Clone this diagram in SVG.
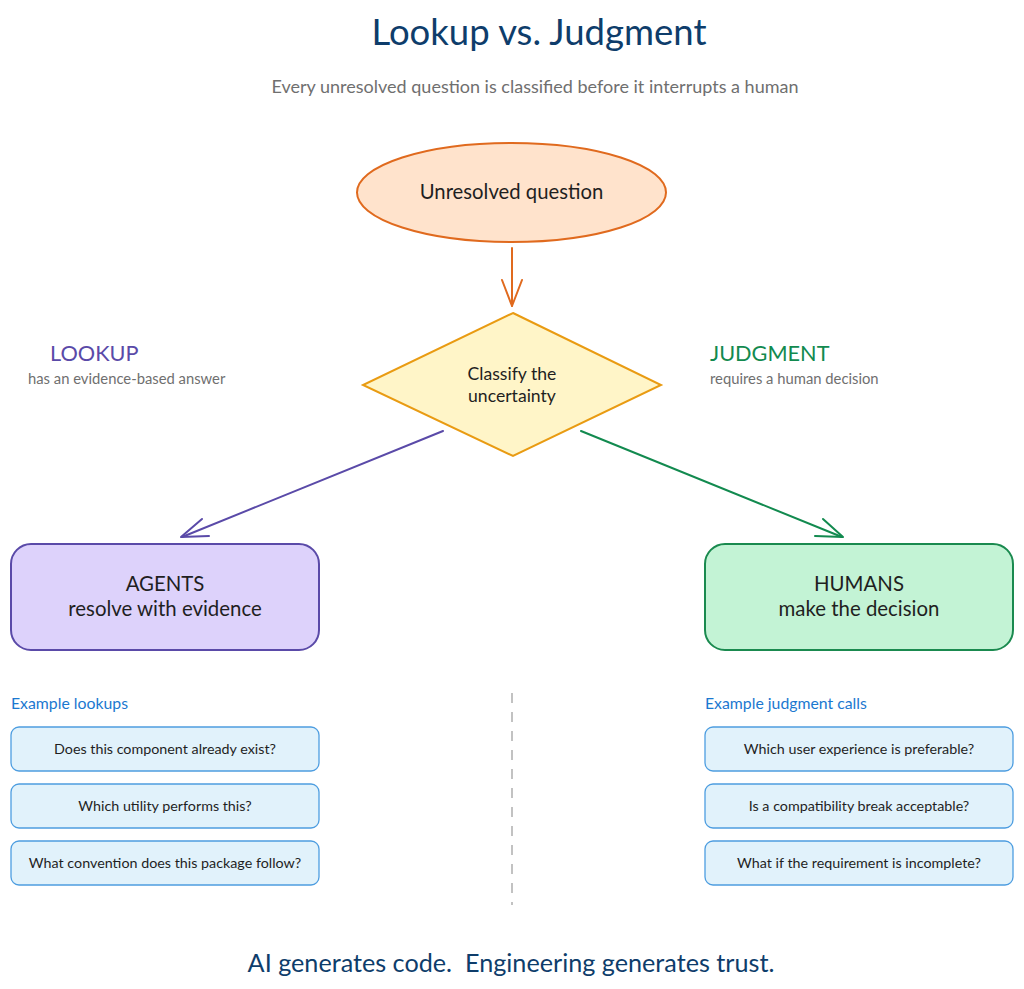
<svg xmlns="http://www.w3.org/2000/svg" width="1024" height="989" viewBox="0 0 1024 989">
<style>
text{font-family:Lato,"Noto Sans","Liberation Sans",sans-serif}
.title{font-size:36.5px;fill:#0e3d6b;text-anchor:middle}
.sub{font-size:18px;fill:#6f6f6f;text-anchor:middle}
.dark{fill:#1f1f1f;text-anchor:middle}
.ex{font-size:14.3px;fill:#1f1f1f;text-anchor:middle}
.exbox{fill:#e1f2fb;stroke:#4d9de0;stroke-width:1.3}
.hdr{font-size:15.8px;fill:#1b78d0}
.note{font-size:14.8px;fill:#6f6f6f}
.footer{font-size:25.2px;fill:#0e3d6b;text-anchor:middle}
</style>
<rect width="1024" height="989" fill="#ffffff"/>
<text class="title" x="539" y="45">Lookup vs. Judgment</text>
<text class="sub" x="535" y="93">Every unresolved question is classified before it interrupts a human</text>

<g id="connectors" fill="none" stroke-width="2" stroke-linecap="round" stroke-linejoin="round">
  <g stroke="#e06a1e">
    <path d="M512 248 L512 306"/>
    <path d="M502 280 L512 306 L522 280"/>
  </g>
  <g stroke="#5a4aa8">
    <path d="M443 431 L182 537"/>
    <path d="M202 519 L181 537 L209 536"/>
  </g>
  <g stroke="#128a4f">
    <path d="M581 431 L842 537"/>
    <path d="M823 519 L843 537 L815 536"/>
  </g>
  <path d="M512 693 L512 905" stroke="#c2c2c2" stroke-width="2" stroke-dasharray="10 9" stroke-linecap="butt"/>
</g>

<g id="unresolved">
  <ellipse cx="511.5" cy="192.5" rx="154.5" ry="49.5" fill="#ffe3cc" stroke="#e06a1e" stroke-width="2"/>
  <text class="dark" x="511.5" y="199" font-size="20.3">Unresolved question</text>
</g>

<g id="classify">
  <polygon points="513,313 661,385 513,456 363,385" fill="#fff5c8" stroke="#e99b12" stroke-width="2" stroke-linejoin="miter"/>
  <text class="dark" x="512" y="380" font-size="17.6">Classify the</text>
  <text class="dark" x="512" y="402" font-size="17.6">uncertainty</text>
</g>

<g id="lookup-label">
  <text x="50" y="361" font-size="21.7" fill="#5a4aa8">LOOKUP</text>
  <text class="note" x="28" y="384">has an evidence-based answer</text>
</g>
<g id="judgment-label">
  <text x="710" y="361" font-size="21.7" fill="#128a4f">JUDGMENT</text>
  <text class="note" x="710" y="384">requires a human decision</text>
</g>

<g id="agents">
  <rect x="11" y="544" width="308" height="106" rx="20" fill="#ddd2fb" stroke="#5a4aa8" stroke-width="2"/>
  <text class="dark" x="165" y="591" font-size="20.4">AGENTS</text>
  <text class="dark" x="165" y="616" font-size="20.4">resolve with evidence</text>
</g>
<g id="humans">
  <rect x="705" y="544" width="308" height="106" rx="20" fill="#c3f3d5" stroke="#1a8a4f" stroke-width="2"/>
  <text class="dark" x="859" y="591" font-size="20.4">HUMANS</text>
  <text class="dark" x="859" y="616" font-size="20.4">make the decision</text>
</g>

<g id="lookup-examples">
  <text class="hdr" x="11" y="709">Example lookups</text>
  <g id="lk1"><rect class="exbox" x="11" y="727" width="308" height="44" rx="8"/><text class="ex" x="165" y="754">Does this component already exist?</text></g>
  <g id="lk2"><rect class="exbox" x="11" y="784" width="308" height="44" rx="8"/><text class="ex" x="165" y="811">Which utility performs this?</text></g>
  <g id="lk3"><rect class="exbox" x="11" y="841" width="308" height="44" rx="8"/><text class="ex" x="165" y="868">What convention does this package follow?</text></g>
</g>
<g id="judgment-examples">
  <text class="hdr" x="705" y="709">Example judgment calls</text>
  <g id="jd1"><rect class="exbox" x="705" y="727" width="308" height="44" rx="8"/><text class="ex" x="859" y="754">Which user experience is preferable?</text></g>
  <g id="jd2"><rect class="exbox" x="705" y="784" width="308" height="44" rx="8"/><text class="ex" x="859" y="811">Is a compatibility break acceptable?</text></g>
  <g id="jd3"><rect class="exbox" x="705" y="841" width="308" height="44" rx="8"/><text class="ex" x="859" y="868">What if the requirement is incomplete?</text></g>
</g>

<text class="footer" x="511" y="972" xml:space="preserve">AI generates code.  Engineering generates trust.</text>
</svg>
